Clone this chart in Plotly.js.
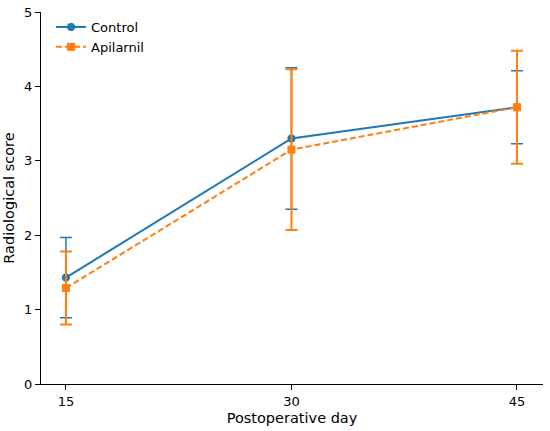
<!DOCTYPE html>
<html><head><meta charset="utf-8">
<script src="https://cdn.plot.ly/plotly-3.0.1.min.js"></script>
<style>body{margin:0;background:#fff}#c{width:550px;height:431px}</style>
</head><body><div id="c"></div>
<script>
const days = [15, 30, 45];
const controlMean = [1.43, 3.30, 3.72];
const controlSD = [0.54, 0.95, 0.49];
const apilarnilMean = [1.29, 3.15, 3.72];
const apilarnilSD = [0.49, 1.08, 0.76];
const seriesNames = ['Control', 'Apilarnil'];

const font = {family: 'DejaVu Sans, sans-serif', size: 13, color: '#000'};
const traces = [
  {x: days, y: controlMean, name: seriesNames[0], type: 'scatter', mode: 'lines+markers',
   line: {color: '#1f77b4', width: 2}, marker: {symbol: 'circle', size: 8, color: '#1f77b4'},
   error_y: {type: 'data', array: controlSD, visible: true, color: '#1f77b4', thickness: 1.5, width: 6}},
  {x: days, y: apilarnilMean, name: seriesNames[1], type: 'scatter', mode: 'lines+markers',
   line: {color: '#ff7f0e', width: 2, dash: '6px,3px'}, marker: {symbol: 'square', size: 8, color: '#ff7f0e'},
   error_y: {type: 'data', array: apilarnilSD, visible: true, color: '#ff7f0e', thickness: 2, width: 6}}
];
const layout = {
  width: 550, height: 431,
  margin: {l: 41, r: 7, t: 12, b: 47},
  paper_bgcolor: '#fff', plot_bgcolor: '#fff',
  font: font,
  showlegend: true,
  legend: {x: 0.02, y: 1.0, xanchor: 'left', yanchor: 'top', bgcolor: 'rgba(0,0,0,0)', font: {family: font.family, size: 13}},
  xaxis: {
    range: [13.34, 46.73], tickvals: days, ticktext: days.map(String),
    showgrid: false, zeroline: false, showline: true, linecolor: '#000', linewidth: 1,
    ticks: 'outside', ticklen: 5, tickcolor: '#000', tickfont: {size: 13},
    title: {text: 'Postoperative day', font: {family: font.family, size: 14.5}, standoff: 5}
  },
  yaxis: {
    range: [0, 5], tickvals: [0,1,2,3,4,5],
    showgrid: false, zeroline: false, showline: true, linecolor: '#000', linewidth: 1,
    ticks: 'outside', ticklen: 5, tickcolor: '#000', tickfont: {size: 13},
    title: {text: 'Radiological score', font: {family: font.family, size: 14.5}, standoff: 6}
  }
};
Plotly.newPlot('c', traces, layout, {displayModeBar: false, staticPlot: true});
</script></body></html>
